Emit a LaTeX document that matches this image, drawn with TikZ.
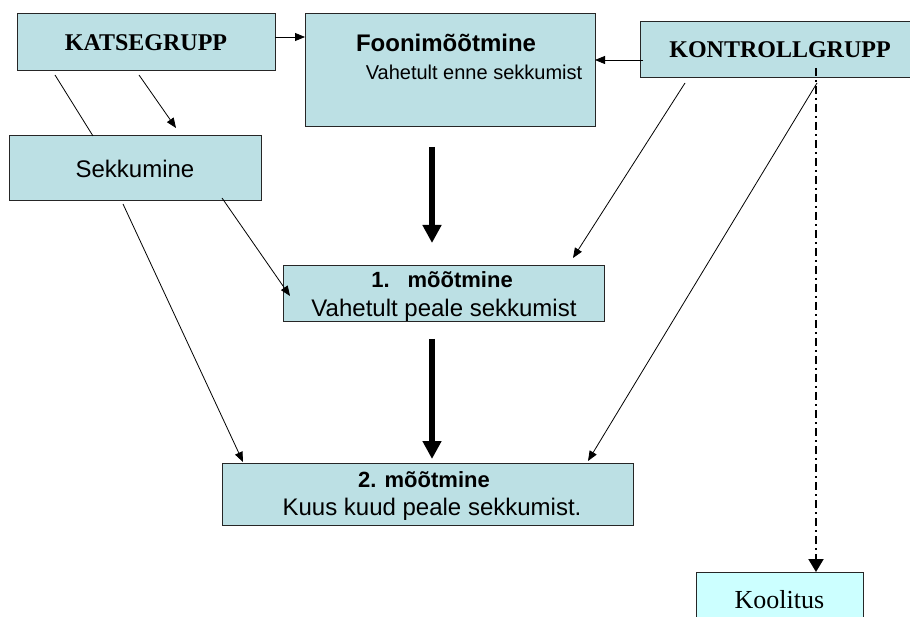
\documentclass[tikz,border=0pt]{standalone}
\usepackage{fontspec}
\setmainfont{Liberation Sans}
\newfontfamily\tnr{Liberation Serif}
\usetikzlibrary{arrows.meta,calc}
\definecolor{boxfill}{RGB}{188,224,228}
\definecolor{koofill}{RGB}{204,255,255}
\begin{document}
\begin{tikzpicture}[x=1pt,y=-1pt,
  box/.style={draw=black!85, line width=1pt, fill=boxfill, inner sep=0pt, outer sep=0pt},
  txt/.style={inner sep=0pt, anchor=base},
  thinarr/.style={line width=0.8pt, -{Triangle[length=10pt,width=8pt]}},
  thinline/.style={line width=0.8pt},
  thickarr/.style={line width=6pt, -{Triangle[length=18pt,width=18pt]}},
  ddarr/.style={line width=2pt, dash pattern=on 8pt off 4pt on 2pt off 4pt, -{Triangle[length=13pt,width=15pt]}}]
\useasboundingbox (0,0) rectangle (910,617);
\clip (0,0) rectangle (910,617);
\fill[white] (0,0) rectangle (910,617);

% boxes
\node[box, minimum width=258pt, minimum height=57pt] (kat) at (146,42.5)
  {\tnr\bfseries\fontsize{24}{28}\selectfont KATSEGRUPP};
\node[box, minimum width=290pt, minimum height=113pt] (fo) at (450,70.5) {};
\node[txt] (fo1) at (446,52) {\bfseries\fontsize{24}{28}\selectfont Foonimõõtmine};
\node[txt] (fo2) at (474,80) {\fontsize{20}{24}\selectfont Vahetult enne sekkumist};
\node[box, minimum width=280pt, minimum height=56pt] (kon) at (780,50)
  {\tnr\bfseries\fontsize{24}{28}\selectfont KONTROLLGRUPP};
\node[box, minimum width=252pt, minimum height=65pt] (sek) at (135,168.5)
  {\fontsize{24}{28}\selectfont Sekkumine};
\node[box, minimum width=321pt, minimum height=56pt] (m1) at (443.5,294) {};
\node[txt] (m1a) at (442,288) {\bfseries\fontsize{22}{26}\selectfont 1.\hspace{18pt}mõõtmine};
\node[txt] (m1b) at (444,317) {\fontsize{24}{28}\selectfont Vahetult peale sekkumist};
\node[box, minimum width=411pt, minimum height=62pt] (m2) at (427.5,494) {};
\node[txt] (m2a) at (424,487) {\bfseries\fontsize{22}{26}\selectfont 2. mõõtmine};
\node[txt] (m2b) at (432,515) {\fontsize{24}{28}\selectfont Kuus kuud peale sekkumist.};
\node[box, fill=koofill, minimum width=167pt, minimum height=56pt] (koo) at (779.5,600)
  {\tnr\fontsize{26}{30}\selectfont Koolitus};

% connectors
\draw[thinarr] ($(kat.east)+(0,-5.5)$) -- ($(fo.west)+(0,-33.5)$);
\draw[thinarr] ($(kon.west)+(3,10)$) -- ($(fo.east)+(0,-10.5)$);
\draw[thinarr] ($(kat.south)+(-7,4)$) -- ($(sek.north)+(41,-8)$);
\draw[thinline] ($(kat.south)+(-91,4)$) -- ($(sek.north)+(-42,0)$);
\draw[thinarr] ($(sek.south)+(87,-3)$) -- ($(m1.west)+(7,2)$);
\draw[thinarr] ($(sek.south)+(-12,3)$) -- ($(m2.north)+(-184.5,-1)$);
\draw[thickarr] ($(fo.south)+(-18,20)$) -- ($(m1.north)+(-11.5,-23)$);
\draw[thickarr] ($(m1.south)+(-11.5,17)$) -- ($(m2.north)+(4.5,-4)$);
\draw[thinarr] ($(kon.south)+(-95,5)$) -- ($(m1.north)+(129.5,-8)$);
\draw[thinarr] ($(kon.south)+(37,5)$) -- ($(m2.north)+(160.5,-2)$);
\draw[ddarr] ($(kon.center)+(36,18)$) -- ($(koo.north)+(36.5,0)$);
\end{tikzpicture}
\end{document}
